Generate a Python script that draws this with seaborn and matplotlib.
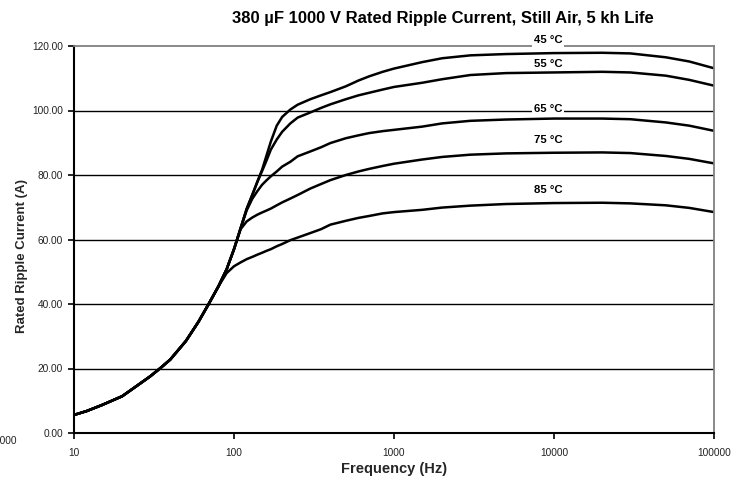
import numpy as np
import pandas as pd
import matplotlib
matplotlib.use("Agg")
import matplotlib.pyplot as plt
import seaborn as sns
from matplotlib.ticker import FixedLocator, FixedFormatter, NullLocator

sns.set_theme(style="white")
plt.rcParams['font.family'] = ['Liberation Sans', 'DejaVu Sans']

# ---------------- data ----------------
freq = [10, 12, 15, 20, 25, 30, 35, 40, 50, 60, 70, 80, 90, 100, 110, 120, 130,
        140, 150, 160, 170, 185, 200, 225, 250, 300, 350, 400, 500, 600, 700,
        850, 1000, 1500, 2000, 3000, 5000, 10000, 20000, 30000, 50000, 70000,
        100000]

i45 = [5.6, 6.8, 8.7, 11.4, 14.8, 17.6, 20.3, 22.8, 28.5, 34.5, 40.3, 45.5, 50.8,
       57.0, 63.5, 69.5, 73.8, 78.0, 81.7, 86.2, 90.4, 95.3, 98.0, 100.3, 101.8,
       103.5, 104.7, 105.7, 107.5, 109.3, 110.6, 112.0, 113.0, 115.0, 116.2,
       117.1, 117.5, 117.8, 117.9, 117.7, 116.5, 115.2, 113.1]
i55 = [5.6, 6.8, 8.7, 11.4, 14.8, 17.6, 20.3, 22.8, 28.5, 34.5, 40.3, 45.5, 50.8,
       57.0, 63.5, 69.5, 73.8, 77.8, 81.3, 84.6, 87.9, 91.0, 93.4, 96.0, 97.8,
       99.4, 100.8, 101.9, 103.5, 104.7, 105.5, 106.5, 107.3, 108.6, 109.7,
       111.0, 111.6, 111.8, 112.0, 111.8, 110.8, 109.5, 107.7]
i65 = [5.6, 6.8, 8.7, 11.4, 14.8, 17.6, 20.3, 22.8, 28.5, 34.5, 40.3, 45.5, 50.8,
       57.0, 63.5, 69.0, 72.6, 75.0, 77.0, 78.4, 79.6, 81.1, 82.6, 84.1, 85.8,
       87.3, 88.6, 89.9, 91.4, 92.3, 93.0, 93.6, 94.0, 95.0, 96.0, 96.8, 97.2,
       97.5, 97.5, 97.3, 96.3, 95.3, 93.7]
i75 = [5.6, 6.8, 8.7, 11.4, 14.8, 17.6, 20.3, 22.8, 28.5, 34.5, 40.3, 45.5, 50.8,
       57.0, 63.2, 65.6, 66.8, 67.7, 68.4, 69.0, 69.6, 70.6, 71.5, 72.7, 73.8,
       75.8, 77.2, 78.4, 80.0, 81.1, 81.9, 82.8, 83.5, 84.8, 85.6, 86.3, 86.7,
       86.9, 87.0, 86.8, 85.9, 85.0, 83.6]
i85 = [5.6, 6.8, 8.7, 11.4, 14.8, 17.6, 20.3, 22.8, 28.5, 34.5, 40.3, 45.5, 49.6,
       51.7, 52.9, 53.9, 54.6, 55.3, 55.9, 56.5, 57.0, 57.9, 58.6, 59.8, 60.6,
       62.0, 63.2, 64.6, 65.8, 66.7, 67.3, 68.1, 68.5, 69.2, 69.9, 70.5, 71.0,
       71.3, 71.4, 71.2, 70.6, 69.8, 68.5]

series_names = ["45 \u00b0C", "55 \u00b0C", "65 \u00b0C", "75 \u00b0C", "85 \u00b0C"]
series_values = [i45, i55, i65, i75, i85]
label_freq = [9200, 9200, 9200, 9200, 9200]
label_y = [121.9, 114.4, 100.4, 90.8, 75.2]

x_ticks = [10, 100, 1000, 10000, 100000]
x_tick_labels = ["10", "100", "1000", "10000", "100000"]
y_ticks = [0, 20, 40, 60, 80, 100, 120]
y_tick_labels = ["0.00", "20.00", "40.00", "60.00", "80.00", "100.00", "120.00"]

title = "380 \u00b5F 1000 V Rated Ripple Current, Still Air, 5 kh Life"
xlabel = "Frequency (Hz)"
ylabel = "Rated Ripple Current (A)"

df = pd.concat([pd.DataFrame({"freq": freq, "current": v, "series": n})
                for n, v in zip(series_names, series_values)], ignore_index=True)

# ---------------- figure ----------------
fig = plt.figure(figsize=(7.48, 4.80), dpi=100)
ax = fig.add_axes([74 / 748, (480 - 433) / 480, (714 - 74) / 748, (433 - 46) / 480])

sns.lineplot(data=df, x="freq", y="current", hue="series",
             palette=["black"] * 5, legend=False, linewidth=1.8, ax=ax,
             estimator=None, sort=False)

ax.set_xscale("log")
ax.set_xlim(10, 100000)
ax.set_ylim(0, 120)
ax.xaxis.set_major_locator(FixedLocator(x_ticks))
ax.xaxis.set_major_formatter(FixedFormatter(x_tick_labels))
ax.xaxis.set_minor_locator(NullLocator())
ax.yaxis.set_major_locator(FixedLocator(y_ticks))
ax.yaxis.set_major_formatter(FixedFormatter(y_tick_labels))

ax.set_axisbelow(True)
ax.yaxis.grid(True, color="black", linewidth=1.0)
ax.xaxis.grid(False)
gl = ax.get_ygridlines()
gl[-1].set_visible(False)
gl[0].set_visible(False)

for s in ["left", "bottom"]:
    ax.spines[s].set_color("black")
    ax.spines[s].set_linewidth(1.5)
for s in ["top", "right"]:
    ax.spines[s].set_color("#808080")
    ax.spines[s].set_linewidth(1.3)

ax.tick_params(axis="both", which="major", direction="out", length=4.3, width=1.2,
               color="black", labelsize=7.3, labelcolor="#222222",
               bottom=True, left=True)
ax.tick_params(axis="y", pad=3.6)
ax.tick_params(axis="x", pad=6.5)

ax.set_xlabel(xlabel, fontsize=10.5, fontweight="bold", labelpad=3)
ax.set_ylabel(ylabel, fontsize=9.5, fontweight="bold")
ax.yaxis.set_label_coords(-0.072, 0.457)

for n, fx, fy in zip(series_names, label_freq, label_y):
    ax.text(fx, fy, n, ha="center", va="center", fontsize=8.2, fontweight="bold",
            color="black", zorder=10, clip_on=False,
            bbox=dict(boxstyle="square,pad=0.15", facecolor="white", edgecolor="none"))

fig.text(443 / 748, 1 - 18 / 480, title, ha="center", va="center",
         fontsize=12, fontweight="bold", color="black")

# stray clipped label at bottom-left of the original image
fig.text(-6 / 748, 1 - 441 / 480, "1000", ha="left", va="center",
         fontsize=7.3, color="#222222")

fig.savefig("out.png", dpi=100)
